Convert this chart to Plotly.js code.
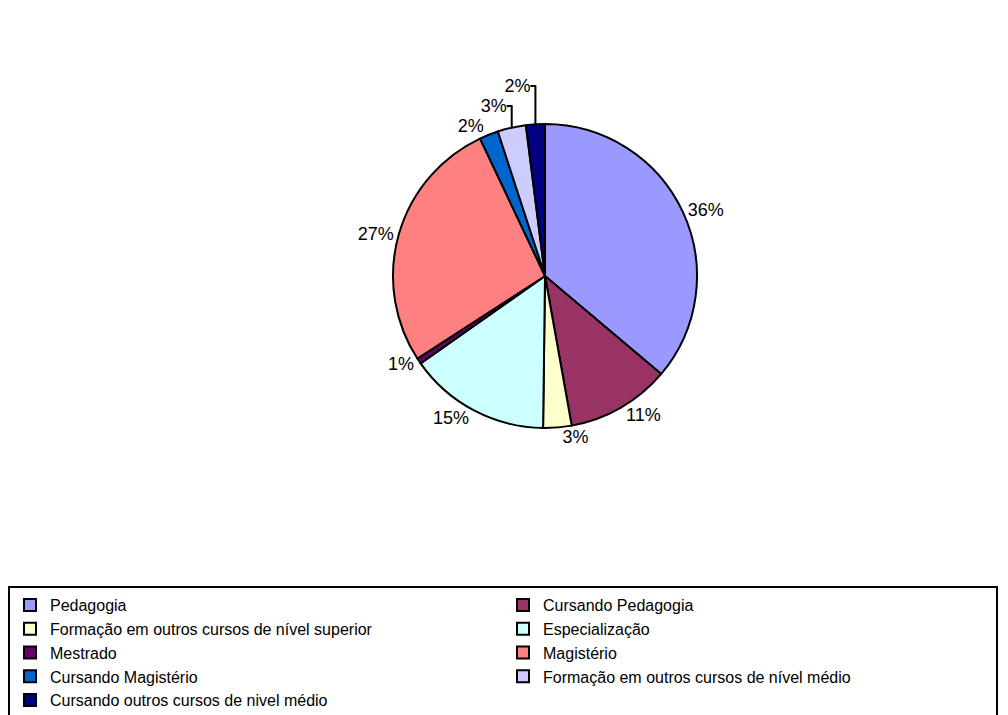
<!DOCTYPE html>
<html>
<head>
<meta charset="utf-8">
<script src="https://cdn.plot.ly/plotly-3.0.1.min.js"></script>
<style>html,body{margin:0;padding:0;background:#fff;overflow:hidden;width:1008px;height:715px;}#chart{width:1100px;height:715px;}</style>
</head>
<body>
<div id="chart"></div>
<script>
const categories = [
  "Pedagogia",
  "Cursando Pedagogia",
  "Formação em outros cursos de nível superior",
  "Especialização",
  "Mestrado",
  "Magistério",
  "Cursando Magistério",
  "Formação em outros cursos de nível médio",
  "Cursando outros cursos de nivel médio"
];
const values = [36, 11, 3, 15, 0.6, 27, 2, 3, 2];
const colors = ["#9999FF", "#993366", "#FFFFCC", "#CCFFFF", "#660066", "#FF8080", "#0066CC", "#CCCCFF", "#000080"];

const W = 1100, H = 715;
const cx = 545, cy = 276, r = 152;

const trace = {
  type: "pie",
  labels: categories,
  values: values,
  sort: false,
  direction: "clockwise",
  rotation: 0,
  marker: {colors: colors, line: {color: "#000000", width: 2}},
  textposition: "outside",
  texttemplate: "%{percent:.0%}",
  textfont: {family: "Liberation Sans, Arial, sans-serif", size: 18, color: "#000"},
  automargin: false,
  domain: {x: [(cx - r) / W, (cx + r) / W], y: [1 - (cy + r) / H, 1 - (cy - r) / H]},
  hoverinfo: "label+percent"
};

const layout = {
  width: W, height: H,
  margin: {l: 0, r: 0, t: 0, b: 0, autoexpand: false},
  paper_bgcolor: "#fff",
  showlegend: true,
  legend: {
    orientation: "h",
    x: 8 / W, xanchor: "left",
    y: 1 - 586 / H, yanchor: "top",
    entrywidth: 448, entrywidthmode: "pixels",
    bordercolor: "#000", borderwidth: 2, bgcolor: "#fff",
    font: {family: "Liberation Sans, Arial, sans-serif", size: 16, color: "#000"},
    itemwidth: 30, tracegroupgap: 0
  }
};

Plotly.newPlot("chart", [trace], layout, {displayModeBar: false, staticPlot: true});
</script>
</body>
</html>
